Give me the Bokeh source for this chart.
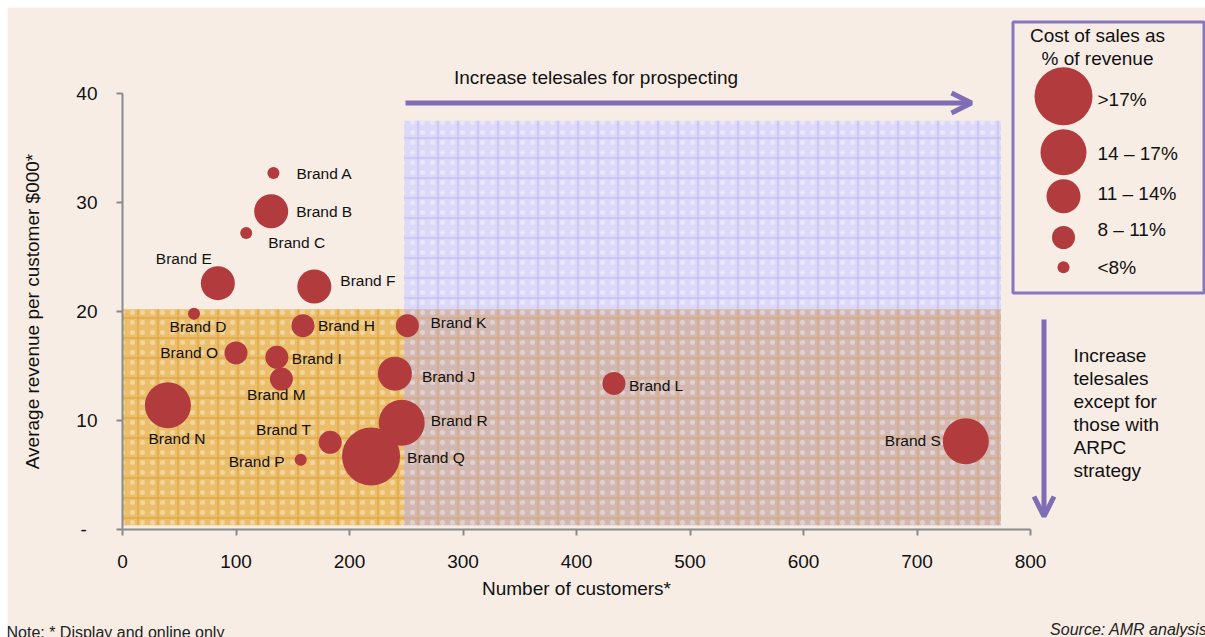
from bokeh.plotting import figure
from bokeh.models import Range1d, FixedTicker, Arrow, OpenHead, Label
from bokeh.embed import file_html
from bokeh.resources import INLINE
from bokeh.core.properties import value

# ---------------- data ----------------
brands = ["Brand A", "Brand B", "Brand C", "Brand D", "Brand E", "Brand F", "Brand H",
          "Brand I", "Brand J", "Brand K", "Brand L", "Brand M", "Brand N", "Brand O",
          "Brand P", "Brand Q", "Brand R", "Brand S", "Brand T"]
customers = [133, 131, 109, 63, 84, 169, 159, 136, 240, 251, 433, 140, 40, 100, 157, 219, 246, 743, 183]
revenue = [32.7, 29.2, 27.2, 19.8, 22.6, 22.3, 18.7, 15.8, 14.3, 18.7, 13.4, 13.8, 11.4, 16.2, 6.4, 6.7, 9.8, 8.1, 8.0]
cost_band = ["<8%", "11 – 14%", "<8%", "<8%", "11 – 14%", "11 – 14%", "8 – 11%",
             "8 – 11%", "11 – 14%", "8 – 11%", "8 – 11%", "8 – 11%", "14 – 17%", "8 – 11%",
             "<8%", ">17%", "14 – 17%", "14 – 17%", "8 – 11%"]
bands = [">17%", "14 – 17%", "11 – 14%", "8 – 11%", "<8%"]
x_ticks = [0, 100, 200, 300, 400, 500, 600, 700, 800]
y_ticks = [0, 10, 20, 30, 40]
y_tick_labels = ["-\u2007", "10", "20", "30", "40"]
# strategy zones (customers, revenue)
zone_split_x = 248
zone_split_y = 20.2
zone_right = 774
zone_top = 37.5
zone_bottom = 0.4

# ---------------- style / layout ----------------
CREAM = "#F8EDE5"
RED = "#B23B3D"
PURPLE = "#7F6DB5"
FONT = "Liberation Sans"
band_size = {">17%": 58, "14 – 17%": 46, "11 – 14%": 34, "8 – 11%": 23, "<8%": 12}
# label offsets in pixels (dx right, dy down) and alignment
label_off = {
    "Brand A": (23, 0, "left"), "Brand B": (25, 0, "left"), "Brand C": (22, 9, "left"),
    "Brand D": (4, 13, "center"), "Brand E": (-34, -25, "center"), "Brand F": (26, -6, "left"),
    "Brand H": (15, 0, "left"), "Brand I": (15, 1, "left"), "Brand J": (27, 3, "left"),
    "Brand K": (23, -3, "left"), "Brand L": (15, 2, "left"), "Brand M": (-5, 15, "center"),
    "Brand N": (9, 33, "center"), "Brand O": (-18, 0, "right"), "Brand P": (-16, 2, "right"),
    "Brand Q": (36, 1, "left"), "Brand R": (29, -2, "left"), "Brand S": (-25, -1, "right"),
    "Brand T": (-19, -13, "right"),
}

W, H = 1198, 630
OX, OY = 7, 7                 # page offset of figure
X0PX, Y0PX = 122, 529         # page pixel of data origin
KX = 908 / 800                # px per customer
KY = 436 / 40                 # px per $000


def px2x(px):
    return (px - X0PX) / KX


def px2y(py):
    return (Y0PX - py) / KY


p = figure(width=W, height=H, output_backend="svg", toolbar_location=None,
           x_range=Range1d(px2x(OX), px2x(OX + W)), y_range=Range1d(px2y(OY + H), px2y(OY)),
           min_border=0)
p.margin = (OY, 0, 0, OX)
p.background_fill_color = CREAM
p.border_fill_color = CREAM
p.outline_line_color = None
p.xgrid.visible = False
p.ygrid.visible = False

for ax in (p.xaxis[0], p.yaxis[0]):
    ax.fixed_location = 0
    ax.axis_line_color = "#8a8a8a"
    ax.axis_line_width = 2
    ax.major_tick_line_color = "#8a8a8a"
    ax.major_tick_line_width = 2
    ax.major_tick_out = 6
    ax.major_tick_in = 0
    ax.minor_tick_line_color = None
    ax.major_label_text_font = FONT
    ax.major_label_text_font_size = "19px"
    ax.major_label_text_color = "#111111"
    ax.axis_label_text_font = FONT
    ax.axis_label_text_font_size = "19px"
    ax.axis_label_text_font_style = "normal"
    ax.axis_label_text_color = "#111111"

p.xaxis.ticker = FixedTicker(ticks=x_ticks)
p.xaxis.bounds = (x_ticks[0], x_ticks[-1])
p.xaxis.axis_label = "Number of customers*"
p.xaxis.major_label_standoff = 19
p.xaxis.axis_label_standoff = 7

p.yaxis.ticker = FixedTicker(ticks=y_ticks)
p.yaxis.bounds = (y_ticks[0], y_ticks[-1])
p.yaxis.major_label_overrides = {t: l for t, l in zip(y_ticks, y_tick_labels)}
p.yaxis.axis_label = "Average revenue per customer $000*"
p.yaxis.major_label_standoff = 19
p.yaxis.axis_label_standoff = 30

# zones
p.quad(left=[zone_split_x], right=[zone_right], bottom=[zone_bottom], top=[zone_top],
       fill_color="#DCD9F8", line_color=None,
       hatch_pattern="cross", hatch_color="#BCB8F6", hatch_scale=20, hatch_weight=1)
p.quad(left=[0], right=[zone_split_x], bottom=[zone_bottom], top=[zone_split_y],
       fill_color="#EBBE6C", line_color=None,
       hatch_pattern="cross", hatch_color="#DDA035", hatch_scale=20, hatch_weight=1)
p.quad(left=[zone_split_x], right=[zone_right], bottom=[zone_bottom], top=[zone_split_y],
       fill_color="#D2B8B4", line_color=None,
       hatch_pattern="cross", hatch_color="#D8A468", hatch_scale=20, hatch_weight=1)
p.quad(left=[0, zone_split_x], right=[zone_split_x, zone_right],
       bottom=[zone_bottom, zone_bottom], top=[zone_split_y, zone_top],
       fill_alpha=0, line_color=None,
       hatch_pattern="dot", hatch_color="white", hatch_alpha=0.35, hatch_scale=10, hatch_weight=1)

# bubbles
sizes = [band_size[b] for b in cost_band]
p.scatter(customers, revenue, size=sizes, fill_color=RED, line_color=None)

# brand labels
lx = [c + label_off[b][0] / KX for b, c in zip(brands, customers)]
ly = [r - label_off[b][1] / KY for b, r in zip(brands, revenue)]
la = [label_off[b][2] for b in brands]
p.text(lx, ly, text=brands, text_align=la, text_baseline="middle",
       text_font=value(FONT), text_font_size="15.5px", text_color="#111111")

# arrows
p.add_layout(Arrow(x_start=px2x(405), y_start=px2y(102.5), x_end=px2x(971), y_end=px2y(102.5),
                   line_color=PURPLE, line_width=5,
                   end=OpenHead(size=20, line_color=PURPLE, line_width=5)))
p.add_layout(Arrow(x_start=px2x(1043.5), y_start=px2y(319), x_end=px2x(1043.5), y_end=px2y(516),
                   line_color=PURPLE, line_width=5,
                   end=OpenHead(size=20, line_color=PURPLE, line_width=5)))

p.text([px2x(595.5)], [px2y(77)], text=["Increase telesales for prospecting"],
       text_align="center", text_baseline="middle",
       text_font=value(FONT), text_font_size="19px", text_color="#111111")

right_lines = ["Increase", "telesales", "except for", "those with", "ARPC", "strategy"]
right_ys = [354.5, 378, 401, 424, 447, 470]
p.text([px2x(1073)] * len(right_lines), [px2y(v) for v in right_ys], text=right_lines,
       text_align="left", text_baseline="middle",
       text_font=value(FONT), text_font_size="19px", text_color="#111111")

# legend box
p.quad(left=[px2x(1012.5)], right=[px2x(1203.5)], top=[px2y(21.5)], bottom=[px2y(292.5)],
       fill_alpha=0, line_color="#8777BF", line_width=3)
p.text([px2x(1097)] * 2, [px2y(35), px2y(58)], text=["Cost of sales as", "% of revenue"],
       text_align="center", text_baseline="middle",
       text_font=value(FONT), text_font_size="19px", text_color="#111111")
leg_cy = [95.7, 151.7, 195.7, 237, 266.7]
leg_ty = [99, 153, 193, 229, 267]
p.scatter([px2x(1063)] * len(bands), [px2y(v) for v in leg_cy],
          size=[band_size[b] for b in bands], fill_color=RED, line_color=None)
p.text([px2x(1097)] * len(bands), [px2y(v) for v in leg_ty], text=bands,
       text_align="left", text_baseline="middle",
       text_font=value(FONT), text_font_size="19px", text_color="#111111")

# footnotes
p.add_layout(Label(x=px2x(6), y=px2y(632), text="Note: * Display and online only",
                   text_font=FONT, text_font_size="16px", text_color="#222222",
                   text_align="left", text_baseline="alphabetic"))
p.add_layout(Label(x=px2x(1207), y=px2y(629), text="Source: AMR analysis",
                   text_font=FONT, text_font_size="16px", text_font_style="italic",
                   text_color="#222222", text_align="right", text_baseline="alphabetic"))

open("out.html", "w").write(file_html(p, INLINE))
